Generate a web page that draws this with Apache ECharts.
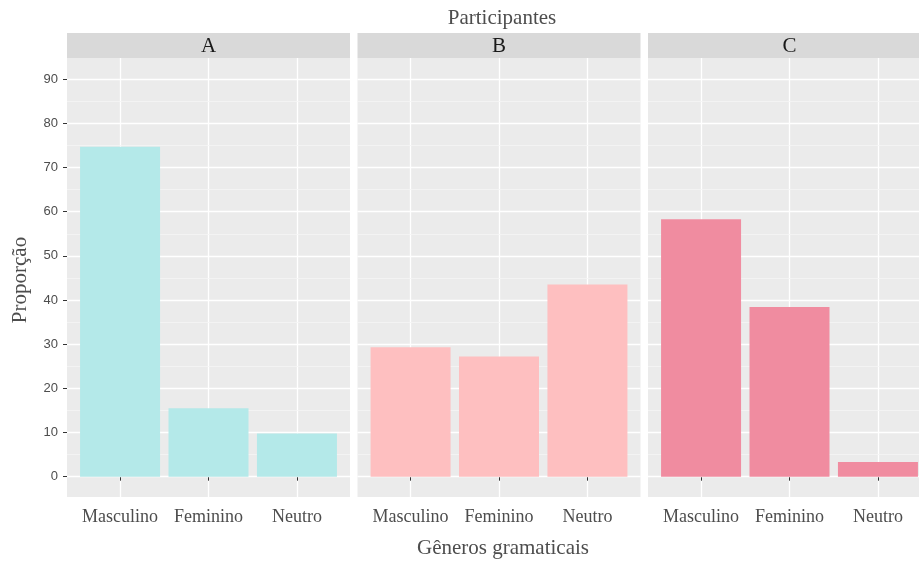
<!DOCTYPE html>
<html>
<head>
<meta charset="utf-8">
<script src="https://cdn.jsdelivr.net/npm/echarts@6/dist/echarts.min.js"></script>
<style>
  html, body { margin: 0; padding: 0; background: #fff; }
  #chart { width: 919px; height: 561px; }
</style>
</head>
<body>
<div id="chart"></div>
<script>
const categories = ['Masculino', 'Feminino', 'Neutro']
const panels = ['A', 'B', 'C']
const valuesA = [74.7, 15.5, 9.8]
const valuesB = [29.3, 27.2, 43.5]
const valuesC = [58.3, 38.4, 3.3]
const majorTicks = [0, 10, 20, 30, 40, 50, 60, 70, 80, 90]
const minorTicks = [5, 15, 25, 35, 45, 55, 65, 75, 85]
const colors = ['#b4e9e9', '#febfc0', '#f08ca0']

const serif = 'Liberation Serif'
const panelLeft = [67, 357.5, 648]
const panelWidth = 283
const panelTop = 58
const panelHeight = 439
const yMin = -4.6
const yMax = 94.8
const xMin = 0.4
const xMax = 3.6

const chart = echarts.init(document.getElementById('chart'))
const allValues = [valuesA, valuesB, valuesC]

const grid = []
const xAxis = []
const yAxis = []
const series = []
const graphic = []

panels.forEach((name, i) => {
  // the last panel is cut off by the right edge of the picture:
  // keep the same px per unit and shorten its visible range
  const visibleWidth = Math.min(panelWidth, 919 - panelLeft[i])
  const visibleMax = xMin + (xMax - xMin) * visibleWidth / panelWidth
  grid.push({
    left: panelLeft[i],
    top: panelTop,
    width: visibleWidth,
    height: panelHeight,
    show: true,
    backgroundColor: '#ebebeb',
    borderWidth: 0
  })
  xAxis.push({
    type: 'value',
    gridIndex: i,
    min: xMin,
    max: visibleMax,
    axisLine: { show: false },
    axisTick: { show: true, length: 4, customValues: [1, 2, 3], lineStyle: { color: '#333', width: 1 } },
    axisLabel: {
      customValues: [1, 2, 3],
      formatter: v => categories[Math.round(v) - 1] || '',
      fontFamily: serif,
      fontSize: 18,
      color: '#4d4d4d',
      margin: 11
    },
    splitLine: { show: true, lineStyle: { color: '#ffffff', width: 1.3 } }
  })
  graphic.push({
    type: 'rect',
    shape: { x: panelLeft[i], y: 33, width: panelWidth, height: 25 },
    style: { fill: '#d9d9d9' }
  })
  graphic.push({
    type: 'text',
    x: panelLeft[i] + panelWidth / 2,
    y: 46,
    style: {
      text: name,
      align: 'center',
      verticalAlign: 'middle',
      fontFamily: serif,
      fontSize: 21,
      fill: '#1a1a1a'
    }
  })
})

// major y axes (one per panel)
panels.forEach((name, i) => {
  yAxis.push({
    type: 'value',
    gridIndex: i,
    min: yMin,
    max: yMax,
    axisLine: { show: false },
    axisTick: { show: i === 0, length: 4, customValues: majorTicks, lineStyle: { color: '#333', width: 1 } },
    axisLabel: {
      show: i === 0,
      customValues: majorTicks,
      fontFamily: 'Liberation Sans',
      fontSize: 13,
      color: '#4d4d4d',
      margin: 9
    },
    splitLine: { show: true, lineStyle: { color: '#ffffff', width: 1.3 } },
    z: 2
  })
})

// minor grid lines
panels.forEach((name, i) => {
  yAxis.push({
    type: 'value',
    gridIndex: i,
    min: yMin,
    max: yMax,
    axisLine: { show: false },
    axisTick: { show: false, customValues: minorTicks },
    axisLabel: { show: false, customValues: minorTicks },
    splitLine: { show: true, lineStyle: { color: '#f5f5f5', width: 0.8 } },
    z: 1
  })
})

panels.forEach((name, i) => {
  series.push({
    name: name,
    type: 'bar',
    xAxisIndex: i,
    yAxisIndex: i,
    barWidth: 80,
    itemStyle: { color: colors[i] },
    data: allValues[i].map((v, j) => [j + 1, v]),
    animation: false
  })
})

graphic.push({
  type: 'text',
  x: 502,
  y: 18,
  style: { text: 'Participantes', align: 'center', verticalAlign: 'middle', fontFamily: serif, fontSize: 21, fill: '#4d4d4d' }
})
graphic.push({
  type: 'text',
  x: 503,
  y: 548,
  style: { text: 'Gêneros gramaticais', align: 'center', verticalAlign: 'middle', fontFamily: serif, fontSize: 21, fill: '#4d4d4d' }
})
graphic.push({
  type: 'text',
  x: 20,
  y: 280,
  rotation: Math.PI / 2,
  style: { text: 'Proporção', align: 'center', verticalAlign: 'middle', fontFamily: serif, fontSize: 21, fill: '#4d4d4d' }
})

chart.setOption({
  animation: false,
  grid,
  xAxis,
  yAxis,
  series,
  graphic
})
</script>
</body>
</html>
